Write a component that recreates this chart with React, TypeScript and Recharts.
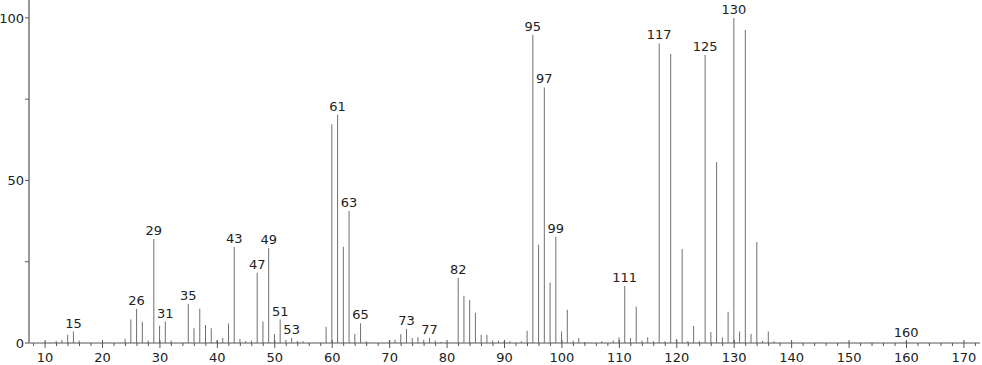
import { BarChart, Bar, XAxis, YAxis, LabelList } from 'recharts';

// m/z of each peak and its relative intensity (%)
const MZ = [
  12, 13, 14, 15, 16, 24, 25, 26, 27, 28, 29, 30, 31, 32, 35, 36, 37, 38, 39, 40,
  41, 42, 43, 44, 45, 46, 47, 48, 49, 50, 51, 52, 53, 54, 55, 59, 60, 61, 62, 63,
  64, 65, 66, 70, 71, 72, 73, 74, 75, 76, 77, 78, 79, 82, 83, 84, 85, 86, 87, 88,
  89, 90, 91, 93, 94, 95, 96, 97, 98, 99, 100, 101, 102, 103, 104, 107, 109, 110, 111, 112,
  113, 114, 115, 116, 117, 118, 119, 120, 121, 122, 123, 124, 125, 126, 127, 128, 129, 130, 131, 132,
  133, 134, 135, 136, 137, 160,
];
const INTENSITY = [
  0.7, 1, 2.5, 3.5, 0.8, 1.3, 7.2, 10.5, 6.5, 0.8, 32, 5.3, 6.6, 0.8, 12, 4.5, 10.5, 5.5, 4.5, 0.8,
  1.5, 6, 29.5, 1.2, 0.6, 0.8, 21.6, 6.6, 29.2, 2.8, 7.2, 0.9, 1.5, 0.6, 0.5, 5, 67.3, 70.2, 29.6, 40.6,
  2.8, 6.1, 0.5, 0.8, 1, 2.7, 4.3, 1.5, 1.8, 1, 1.5, 0.8, 0.3, 20.1, 14.5, 13.2, 9.3, 2.5, 2.5, 0.8,
  0.8, 0.5, 0.5, 0.5, 3.8, 94.8, 30.2, 78.6, 18.6, 32.7, 3.5, 10.2, 0.7, 1.5, 0.3, 0.5, 0.8, 1.8, 17.5, 1.5,
  11.2, 0.8, 1.8, 0.5, 92.2, 0.5, 88.9, 1.2, 28.9, 0.6, 5.2, 0.5, 88.6, 3.4, 55.7, 1.8, 9.6, 100, 3.5, 96.3,
  2.8, 31.1, 0.6, 3.5, 0.5, 0.5,
];
// peaks that carry their m/z as a label
const LABELED = [15, 26, 29, 31, 35, 43, 47, 49, 51, 53, 61, 63, 65, 73, 77, 82, 95, 97, 99, 111, 117, 125, 130, 160];

const X_TICKS = Array.from({ length: 83 }, (_, i) => 8 + i * 2);
const Y_TICKS = [0, 25, 50, 75, 100];

const data = MZ.map((mz, i) => ({
  mz,
  v: INTENSITY[i],
  label: LABELED.includes(mz) ? String(mz) : '',
}));

const FONT = 'DejaVu Sans';
const AXIS = '#555';

const XTick = ({ x, y, payload }: any) => {
  const major = payload.value % 10 === 0;
  return (
    <g>
      {major ? (
        <line x1={x} x2={x} y1={y - 3} y2={y + 5} stroke={AXIS} />
      ) : (
        <line x1={x} x2={x} y1={y} y2={y + 3} stroke={AXIS} />
      )}
      {major && (
        <text x={x} y={y + 19} textAnchor="middle" fontSize={13} fontFamily={FONT} fill="#222">
          {payload.value}
        </text>
      )}
    </g>
  );
};

const YTick = ({ x, y, payload }: any) => (
  <g>
    <line x1={x - 4} x2={x} y1={y} y2={y} stroke={AXIS} />
    {payload.value % 50 === 0 && (
      <text x={x - 5} y={y + 5} textAnchor="end" fontSize={13} fontFamily={FONT} fill="#222">
        {payload.value}
      </text>
    )}
  </g>
);

const PeakLabel = ({ x, y, width, value }: any) => {
  if (!value) return null;
  return (
    <text x={x + width / 2} y={y - 4} textAnchor="middle" fontSize={13} fontFamily={FONT} fill="#222">
      {value}
    </text>
  );
};

export default function App() {
  return (
    <div style={{ position: 'absolute', left: 0, top: 0, background: '#fff' }}>
      <BarChart width={982} height={365} data={data} margin={{ top: 0, right: 2, left: 0, bottom: 0 }}>
        <XAxis
          dataKey="mz"
          type="number"
          domain={[7.2, 172.8]}
          ticks={X_TICKS}
          interval={0}
          tick={<XTick />}
          tickLine={false}
          tickSize={0}
          tickMargin={0}
          axisLine={{ stroke: AXIS }}
          height={22}
          allowDataOverflow
        />
        <YAxis
          type="number"
          domain={[0, 105.5]}
          ticks={Y_TICKS}
          interval={0}
          tick={<YTick />}
          tickLine={false}
          tickSize={0}
          tickMargin={0}
          axisLine={{ stroke: '#999', strokeWidth: 2 }}
          width={29}
          allowDataOverflow
        />
        <Bar dataKey="v" fill="#707070" barSize={1} isAnimationActive={false}>
          <LabelList dataKey="label" content={<PeakLabel />} />
        </Bar>
      </BarChart>
    </div>
  );
}
